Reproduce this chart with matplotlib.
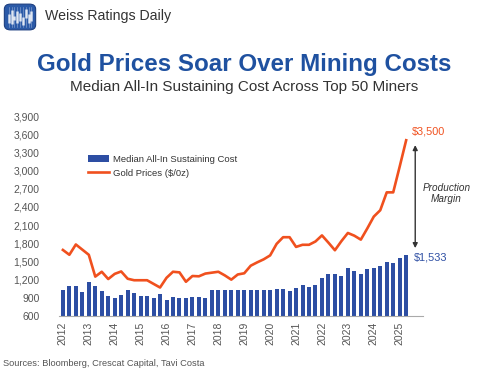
import numpy as np
import matplotlib
matplotlib.use("Agg")
import matplotlib.pyplot as plt
from matplotlib.patches import FancyBboxPatch

plt.rcParams['font.family'] = ['Liberation Sans', 'DejaVu Sans']

# quarterly data, 2012 Q1 .. 2025 Q2
aisc = [1030, 1090, 1100, 1000, 1160, 1100, 1010, 930,
        890, 950, 1030, 980, 930, 930, 890, 960,
        865, 910, 890, 900, 915, 915, 890, 1030,
        1030, 1030, 1030, 1030, 1030, 1030, 1030, 1030,
        1030, 1045, 1050, 1020, 1070, 1110, 1085, 1110,
        1220, 1300, 1300, 1255, 1400, 1340, 1300, 1375,
        1385, 1430, 1485, 1480, 1555, 1610]
gold = [1690, 1610, 1780, 1695, 1610, 1250, 1330, 1210,
        1295, 1335, 1215, 1190, 1190, 1190, 1130, 1070,
        1230, 1330, 1320, 1165, 1260, 1255, 1300, 1315,
        1330, 1270, 1200, 1285, 1305, 1430, 1485, 1535,
        1600, 1790, 1900, 1900, 1740, 1775, 1775, 1830,
        1930, 1810, 1685, 1835, 1970, 1925, 1860, 2045,
        2240, 2345, 2640, 2640, 3065, 3500]
years = [str(y) for y in range(2012, 2026)]
yticks = list(range(600, 4000, 300))

blue = "#2d4ea3"
orange = "#f0501e"
gray = "#555555"

fig = plt.figure(figsize=(4.89, 3.72), dpi=100)

# header logo
lax = fig.add_axes([3/489, 1-31/372, 34/489, 28/372])
lax.set_xlim(0, 1); lax.set_ylim(0, 1); lax.axis('off')
lax.add_patch(FancyBboxPatch((0.04, 0.04), 0.92, 0.92,
              boxstyle="round,pad=0,rounding_size=0.18",
              fc="#2b5aa8", ec="#1d3f80", lw=0.8))
logo_lo = [0.30, 0.25, 0.40, 0.30, 0.35, 0.20, 0.45, 0.30, 0.35]
logo_hi = [0.60, 0.75, 0.55, 0.70, 0.65, 0.50, 0.80, 0.60, 0.70]
for i, (lo, hi) in enumerate(zip(logo_lo, logo_hi)):
    xx = 0.17 + i * 0.083
    lax.plot([xx, xx], [0.14, 0.86], color="white", lw=0.4, alpha=0.5)
    lax.plot([xx, xx], [lo, hi], color="white", lw=1.8, alpha=0.8,
             solid_capstyle='butt')
fig.text(45/489, 1-16/372, "Weiss Ratings Daily", fontsize=10.2,
         color="#333333", va="center", ha="left")

fig.text(0.5, 1-65/372, "Gold Prices Soar Over Mining Costs", fontsize=17.4,
         fontweight="bold", color="#1f51a0", ha="center", va="center")
fig.text(0.5, 1-87/372, "Median All-In Sustaining Cost Across Top 50 Miners",
         fontsize=11, color="#333333", ha="center", va="center")
fig.text(3/489, 1-363/372, "Sources: Bloomberg, Crescat Capital, Tavi Costa",
         fontsize=6.7, color=gray, ha="left", va="center")

ax = fig.add_axes([59/489, 1-316/372, 364/489, 200/372])
x = np.arange(len(aisc))
ax.bar(x, np.array(aisc) - 600, bottom=600, width=0.62, color=blue,
       label="Median All-In Sustaining Cost", zorder=2)
ax.plot(x, gold, color=orange, lw=1.9, label="Gold Prices ($/0z)", zorder=3)

ax.set_xlim(-0.6, 55.6)
ax.set_ylim(600, 3900)
ax.set_yticks(yticks)
ax.set_yticklabels([f"{v:,}" for v in yticks])
ax.set_xticks(np.arange(0, len(aisc), 4))
ax.set_xticklabels(years, rotation=90)
ax.tick_params(length=0, labelsize=7.5, colors=gray, pad=4)
ax.tick_params(axis='y', pad=14)
for s in ['top', 'right', 'left']:
    ax.spines[s].set_visible(False)
ax.spines['bottom'].set_color("#aaaaaa")
ax.spines['bottom'].set_linewidth(0.8)

h, l = ax.get_legend_handles_labels()
leg = ax.legend(h[::-1], l[::-1], loc="upper left",
                bbox_to_anchor=(0.055, 0.85), frameon=False,
                fontsize=6.8, handlelength=2.3, handleheight=0.9,
                labelspacing=0.55, handletextpad=0.45)
for t in leg.get_texts():
    t.set_color("#333333")

ax.annotate("", xy=(54.4, 3420), xytext=(54.4, 1720),
            arrowprops=dict(arrowstyle="<|-|>", color="#333333", lw=1.0,
                            mutation_scale=7, shrinkA=0, shrinkB=0),
            annotation_clip=False)
ax.text(59.2, 2620, "Production\nMargin", fontsize=7.2, style="italic",
        color="#333333", ha="center", va="center", linespacing=1.2)
ax.text(53.9, 3640, "$3,500", fontsize=7.8, color=orange, ha="left",
        va="center")
ax.text(54.2, 1560, "$1,533", fontsize=7.8, color=blue, ha="left",
        va="center")

fig.savefig("out.png", dpi=100)
